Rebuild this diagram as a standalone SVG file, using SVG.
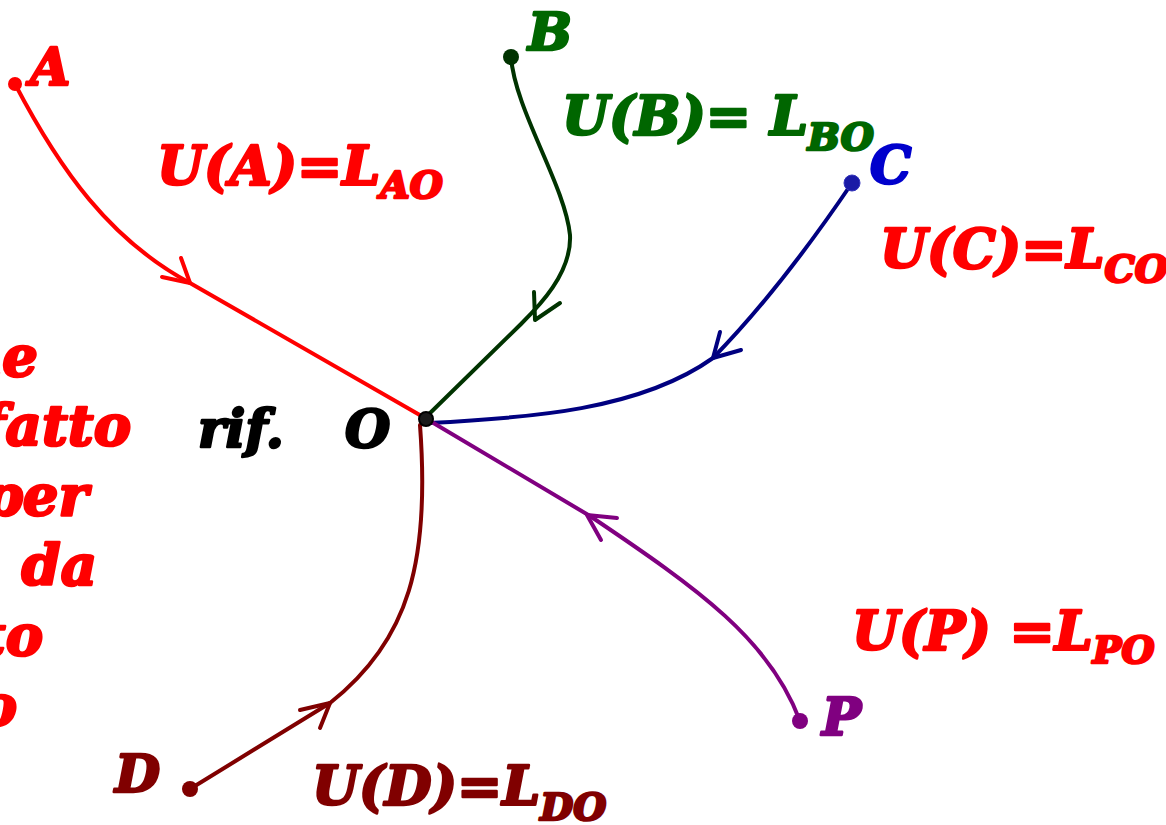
<svg xmlns="http://www.w3.org/2000/svg" width="1166" height="825" viewBox="0 0 1166 825">
<style>
text{font-family:"DejaVu Serif",serif;font-weight:bold;font-style:italic;stroke-width:2.6;stroke-linejoin:round}
.lbl{font-size:52px}
.eq{font-size:54px}
.sub{font-size:38px}
.side{font-size:56px;fill:#ff0000;stroke:#ff0000}
.c{fill:none;stroke-width:4;stroke-linecap:round;stroke-linejoin:round}
</style>
<rect width="1166" height="825" fill="#ffffff"/>
<g id="side-text">
<text class="side" x="38" y="376" text-anchor="end">ne</text>
<text class="side" x="131" y="445" text-anchor="end">fatto</text>
<text class="side" x="88" y="515" text-anchor="end">per</text>
<text class="side" x="97" y="585" text-anchor="end">n da</text>
<text class="side" x="43" y="655" text-anchor="end">to</text>
<text class="side" x="17" y="725" text-anchor="end">o</text>
</g>
<g id="connectors">
<g id="path-A">
<path class="c" stroke="#ff0000" d="M15,84 C60,170 110,240 190,283 L425,418"/>
<path class="c" stroke="#ff0000" d="M181,258 L190,283 L162,277"/>
</g>
<g id="path-B">
<path class="c" stroke="#003300" d="M511,57 C515,110 565,185 570,235 C572,275 535,310 520,325 L425,418"/>
<path class="c" stroke="#003300" d="M534,292 L535,320 L560,303"/>
</g>
<g id="path-C">
<path class="c" stroke="#000080" d="M852,183 C810,245 760,310 713,358 C640,410 530,418 428,423"/>
<path class="c" stroke="#000080" d="M720,332 L713,358 L741,350"/>
</g>
<g id="path-P">
<path class="c" stroke="#800080" d="M800,721 C770,640 700,590 590,516 L425,418"/>
<path class="c" stroke="#800080" d="M617,518 L587,515 L601,540"/>
</g>
<g id="path-D">
<path class="c" stroke="#800000" d="M190,789 L330,703 C410,640 430,560 420,425"/>
<path class="c" stroke="#800000" d="M300,710 L330,703 L320,728"/>
</g>
</g>
<g id="node-A">
<circle cx="15" cy="84" r="7" fill="#ff0000"/>
<text class="lbl" x="30" y="85" fill="#ff0000" stroke="#ff0000">A</text>
</g>
<g id="node-B">
<circle cx="511" cy="57" r="8" fill="#003300"/>
<text class="lbl" x="528" y="50" fill="#006600" stroke="#006600">B</text>
</g>
<g id="node-C">
<circle cx="852" cy="183" r="8" fill="#1a1aa6" stroke="#3333bb" stroke-width="1"/>
<text class="lbl" x="870" y="183" fill="#0000cc" stroke="#0000cc">C</text>
</g>
<g id="node-P">
<circle cx="800" cy="721" r="8" fill="#800080"/>
<text class="lbl" x="822" y="735" fill="#800080" stroke="#800080">P</text>
</g>
<g id="node-D">
<circle cx="190" cy="789" r="8" fill="#800000"/>
<text class="lbl" x="115" y="792" fill="#800000" stroke="#800000">D</text>
</g>
<g id="node-O">
<circle cx="426" cy="419" r="7" fill="#1a1a1a" stroke="#000000" stroke-width="2"/>
<text class="lbl" x="345" y="447" fill="#000000" stroke="#000000">O</text>
<text class="lbl" x="198" y="447" fill="#000000" stroke="#000000">rif.</text>
</g>
<g id="label-UA">
<text class="eq" x="157" y="185" fill="#ff0000" stroke="#ff0000">U(A)=L<tspan class="sub" dy="13">AO</tspan></text>
</g>
<g id="label-UB">
<text class="eq" x="562" y="135" fill="#006600" stroke="#006600">U(B)= L<tspan class="sub" dy="15">BO</tspan></text>
</g>
<g id="label-UC">
<text class="eq" x="880" y="268" fill="#ff0000" stroke="#ff0000">U(C)=L<tspan class="sub" dy="14">CO</tspan></text>
</g>
<g id="label-UP">
<text class="eq" x="852" y="650" fill="#ff0000" stroke="#ff0000">U(P) =L<tspan class="sub" dy="13">PO</tspan></text>
</g>
<g id="label-UD">
<text class="eq" x="312" y="805" fill="#800000" stroke="#800000">U(D)=L<tspan class="sub" dy="15">DO</tspan></text>
</g>
</svg>
